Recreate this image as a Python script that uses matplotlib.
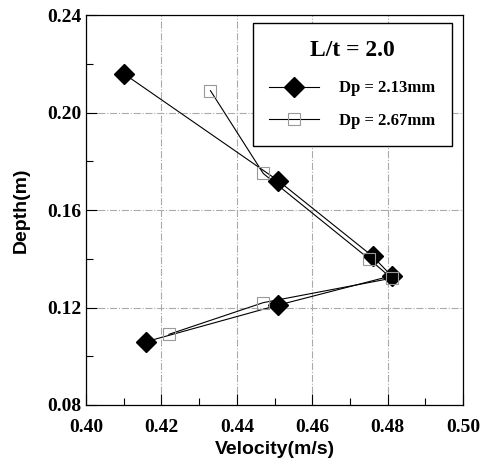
import matplotlib.pyplot as plt
from matplotlib.ticker import MultipleLocator

# Dp = 2.13 mm
vel_213 = [0.410, 0.451, 0.476, 0.481, 0.451, 0.416]
dep_213 = [0.216, 0.172, 0.141, 0.133, 0.121, 0.106]

# Dp = 2.67 mm
vel_267 = [0.433, 0.447, 0.475, 0.481, 0.447, 0.422]
dep_267 = [0.209, 0.175, 0.140, 0.132, 0.122, 0.109]

serif_bold = {'family': 'Liberation Serif', 'weight': 'bold'}

fig = plt.figure(figsize=(4.83, 4.72), dpi=100)
ax = fig.add_axes([0.178, 0.142, 0.781, 0.826])

ax.plot(vel_213, dep_213, color='black', lw=0.8, marker='D', ms=10,
        mfc='black', mec='black', label='Dp = 2.13mm', zorder=3)
ax.plot(vel_267, dep_267, color='black', lw=0.8, marker='s', ms=9,
        mfc='none', mec='#999999', mew=0.8, label='Dp = 2.67mm', zorder=3)

ax.set_xlim(0.40, 0.50)
ax.set_ylim(0.08, 0.24)
ax.xaxis.set_major_locator(MultipleLocator(0.02))
ax.xaxis.set_minor_locator(MultipleLocator(0.01))
ax.yaxis.set_major_locator(MultipleLocator(0.04))
ax.yaxis.set_minor_locator(MultipleLocator(0.02))
ax.tick_params(which='both', direction='in', top=False, right=False)
ax.tick_params(which='major', length=8, width=0.8)
ax.tick_params(which='minor', length=5, width=0.8)
ax.tick_params(axis='x', which='major', pad=10)
ax.grid(True, which='major', color='#aaaaaa', lw=0.8, ls='-.')

ax.set_xticklabels(['%.2f' % v for v in ax.get_xticks()])
ax.set_yticklabels(['%.2f' % v for v in ax.get_yticks()])
for lab in ax.get_xticklabels() + ax.get_yticklabels():
    lab.set_fontfamily('Liberation Serif')
    lab.set_fontweight('bold')
    lab.set_fontsize(14)

ax.set_xlabel('Velocity(m/s)', fontfamily='Liberation Sans', fontweight='bold',
              fontsize=14, labelpad=4)
ax.set_ylabel('Depth(m)', fontfamily='Liberation Sans', fontweight='bold',
              fontsize=14, labelpad=12)

for sp in ax.spines.values():
    sp.set_linewidth(0.9)

leg = ax.legend(loc='upper right', bbox_to_anchor=(0.971, 0.979),
                title='L/t = 2.0', prop={**serif_bold, 'size': 12},
                title_fontproperties={**serif_bold, 'size': 17},
                fancybox=False, edgecolor='black', framealpha=1,
                handlelength=3.0, borderpad=1.0, labelspacing=1.0,
                handletextpad=1.2, borderaxespad=0)
leg.get_frame().set_linewidth(1.0)
leg._legend_box.sep = 14

fig.savefig('out.png', dpi=100)
